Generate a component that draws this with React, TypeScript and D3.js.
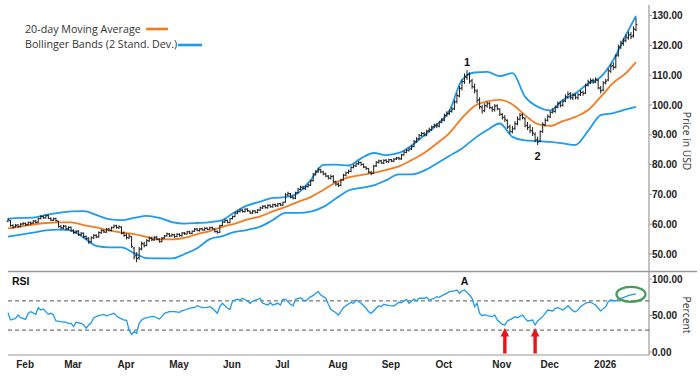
import React from "react";
import * as d3 from "d3";

// ---- Daily OHLC (trading-day index 0 = late Jan 2025) ----
const closes = [
  61.5, 59.5, 59.0, 59.6, 59.2, 60.0, 60.2, 59.8, 60.5, 60.3,
  61.0, 60.6, 61.8, 62.5, 62.2, 62.8, 62.0, 61.4, 61.8, 61.2,
  59.2, 58.8, 59.3, 58.5, 58.9, 57.8, 57.2, 57.6, 56.5, 56.9,
  55.8, 55.2, 54.0, 55.5, 56.2, 55.8, 57.2, 57.8, 57.4, 58.3,
  58.0, 58.8, 59.4, 58.9, 59.2, 57.0, 56.2, 55.5, 56.0, 52.5,
  49.0, 48.5, 51.5, 53.5, 52.8, 54.5, 55.2, 54.8, 55.6, 55.0,
  54.2, 55.3, 56.0, 56.8, 56.0, 56.5, 55.8, 56.6, 56.2, 57.0,
  56.8, 57.4, 57.0, 57.6, 58.3, 57.9, 58.4, 58.1, 58.6, 58.3,
  58.8, 58.5, 57.5, 57.2, 59.5, 60.8, 61.2, 60.6, 61.8, 62.5,
  63.8, 64.2, 64.8, 64.3, 65.0, 64.5, 63.8, 64.4, 64.0, 64.8,
  65.5, 66.0, 65.6, 66.3, 65.9, 66.5, 66.2, 66.8, 66.5, 67.2,
  69.8, 70.3, 69.0, 68.8, 70.5, 71.8, 72.4, 72.0, 72.6, 73.2,
  74.5, 76.8, 77.5, 78.2, 77.6, 76.8, 76.2, 75.5, 76.0, 74.2,
  73.5, 73.0, 74.8, 76.5, 77.2, 77.8, 79.0, 79.6, 80.2, 80.6,
  80.0, 79.2, 78.6, 77.5, 77.0, 79.5, 80.8, 81.2, 80.6, 81.4,
  81.0, 81.6, 81.2, 81.8, 82.2, 82.0, 83.2, 84.2, 84.8, 85.2,
  86.0, 87.8, 88.6, 89.8, 90.4, 90.0, 91.2, 91.8, 92.6, 93.2,
  93.0, 94.2, 95.0, 96.5, 97.2, 97.8, 98.6, 101.0, 103.2, 105.5,
  107.8, 109.5, 110.2, 108.0, 106.2, 105.0, 101.5, 99.5, 98.0, 99.8,
  100.4, 99.2, 98.5, 99.6, 98.8, 97.0, 95.8, 95.2, 92.5, 91.2,
  92.0, 93.8, 95.2, 96.5, 95.8, 93.0, 92.4, 91.5, 90.6, 88.2,
  87.6, 91.0, 93.5, 94.8, 96.2, 97.5, 98.0, 99.2, 100.5, 99.8,
  101.2, 102.8, 103.6, 102.5, 103.2, 102.6, 103.4, 104.2, 103.8, 106.5,
  107.8, 108.2, 107.6, 108.6, 105.8, 104.8, 107.5, 108.0, 111.5, 113.0,
  112.6, 116.5, 119.5, 120.8, 121.5, 122.8, 123.5, 122.9, 125.5, 127.0,
];
const opens = [
  61.0, 61.2, 59.6, 59.1, 59.8, 59.3, 60.1, 60.3, 59.9, 60.6,
  60.4, 61.1, 60.7, 61.9, 62.6, 62.1, 62.9, 61.9, 61.3, 61.9,
  61.0, 59.3, 58.7, 59.4, 58.4, 59.0, 57.9, 57.1, 57.7, 56.4,
  57.0, 55.9, 55.3, 54.1, 55.4, 56.3, 55.7, 57.1, 57.9, 57.3,
  58.4, 57.9, 58.9, 59.5, 58.8, 59.0, 57.1, 56.3, 55.4, 55.8,
  52.0, 49.5, 48.8, 51.8, 53.3, 52.9, 54.4, 55.3, 54.7, 55.7,
  54.9, 54.1, 55.4, 56.1, 56.7, 56.1, 56.4, 55.9, 56.7, 56.1,
  57.1, 56.7, 57.5, 56.9, 57.7, 58.4, 57.8, 58.5, 58.0, 58.7,
  58.2, 58.9, 58.4, 57.6, 57.3, 59.6, 60.7, 61.3, 60.5, 61.9,
  62.6, 63.7, 64.3, 64.7, 64.2, 65.1, 64.4, 63.7, 64.5, 63.9,
  64.7, 65.4, 66.1, 65.5, 66.4, 65.8, 66.6, 66.1, 66.9, 66.4,
  67.4, 69.9, 70.2, 69.1, 68.7, 70.6, 71.7, 72.5, 71.9, 72.7,
  73.1, 74.6, 76.7, 77.6, 78.3, 77.5, 76.9, 76.1, 75.4, 76.1,
  74.3, 73.4, 73.1, 74.9, 76.4, 77.3, 77.7, 79.1, 79.5, 80.3,
  80.7, 80.1, 79.1, 78.7, 77.4, 77.1, 79.6, 80.7, 81.3, 80.5,
  81.5, 80.9, 81.7, 81.1, 81.9, 82.3, 81.9, 83.3, 84.1, 84.7,
  85.3, 86.1, 87.7, 88.7, 89.7, 90.5, 89.9, 91.3, 91.7, 92.7,
  93.3, 92.9, 94.3, 94.9, 96.6, 97.1, 97.9, 98.7, 101.2, 103.0,
  105.7, 107.9, 109.2, 110.4, 108.1, 106.0, 104.6, 101.8, 99.2, 98.2,
  99.7, 100.6, 99.0, 98.4, 99.8, 98.6, 96.8, 95.9, 94.8, 92.8,
  91.0, 92.2, 93.6, 95.3, 96.7, 95.4, 93.2, 92.6, 91.3, 90.2,
  88.5, 87.9, 91.2, 93.3, 94.9, 96.0, 97.6, 97.8, 99.3, 100.7,
  99.9, 101.4, 102.6, 103.8, 102.3, 103.3, 102.4, 103.5, 104.3, 104.0,
  106.7, 107.6, 108.3, 107.8, 108.2, 105.6, 105.0, 107.4, 108.4, 111.3,
  113.2, 112.8, 116.8, 119.3, 120.6, 121.7, 122.5, 123.6, 123.2, 125.3,
];
const highs = [
  62.0, 61.4, 60.0, 60.1, 60.0, 60.4, 60.7, 60.6, 60.9, 60.9,
  61.4, 61.5, 62.2, 63.0, 62.9, 63.3, 63.2, 62.3, 62.2, 62.2,
  61.2, 59.7, 59.8, 59.6, 59.3, 59.2, 58.3, 58.0, 58.0, 57.4,
  57.2, 56.2, 55.6, 55.9, 56.7, 56.6, 57.6, 58.3, 58.2, 58.7,
  58.8, 59.2, 59.9, 59.8, 59.6, 59.3, 57.6, 56.9, 56.8, 56.0,
  52.4, 50.6, 52.4, 54.2, 54.1, 55.0, 55.9, 55.8, 56.0, 56.1,
  55.3, 55.7, 56.4, 57.2, 57.0, 56.9, 56.8, 57.0, 56.9, 57.4,
  57.4, 57.8, 57.8, 57.9, 58.7, 58.7, 58.8, 58.8, 59.0, 58.9,
  59.2, 59.2, 58.6, 57.9, 59.8, 61.2, 61.7, 61.5, 62.1, 62.9,
  64.1, 64.6, 65.2, 65.0, 65.4, 65.3, 64.6, 64.8, 64.7, 65.1,
  65.9, 66.4, 66.4, 66.7, 66.6, 66.9, 66.9, 67.2, 67.2, 67.6,
  70.4, 70.9, 70.5, 69.6, 70.9, 72.2, 72.9, 72.9, 73.0, 73.6,
  74.9, 77.2, 78.1, 79.0, 78.6, 77.9, 77.3, 76.5, 76.6, 76.4,
  74.6, 74.0, 75.2, 76.9, 77.7, 78.3, 79.4, 80.1, 80.7, 81.2,
  81.0, 80.4, 79.5, 78.9, 77.9, 79.9, 81.2, 81.7, 81.6, 81.8,
  81.8, 82.0, 81.9, 82.2, 82.6, 82.6, 83.6, 84.6, 85.3, 85.7,
  86.5, 88.3, 89.2, 90.3, 91.0, 90.9, 91.7, 92.4, 93.1, 93.8,
  93.9, 94.7, 95.6, 97.1, 97.9, 98.5, 99.4, 101.6, 104.0, 106.3,
  108.6, 110.6, 111.7, 111.0, 108.8, 107.2, 105.3, 102.6, 100.0, 100.6,
  101.2, 101.0, 99.6, 100.3, 100.2, 98.9, 97.3, 96.6, 95.2, 93.4,
  93.0, 94.6, 96.2, 97.3, 97.2, 96.0, 94.3, 93.5, 92.6, 90.8,
  89.4, 91.5, 94.2, 95.6, 96.8, 98.0, 98.9, 99.8, 101.2, 101.3,
  101.8, 103.6, 104.6, 104.3, 103.9, 103.8, 104.0, 105.0, 104.8, 107.2,
  108.5, 109.0, 108.9, 109.3, 108.7, 106.4, 108.0, 108.8, 112.2, 113.8,
  114.3, 117.0, 120.3, 121.6, 122.5, 123.6, 124.6, 124.5, 126.4, 129.2,
];
const lows = [
  60.7, 59.2, 58.5, 58.9, 58.8, 59.0, 59.7, 59.4, 59.6, 59.8,
  60.1, 60.3, 60.5, 61.6, 61.8, 61.9, 61.7, 61.0, 61.1, 60.9,
  58.8, 58.2, 58.4, 58.0, 58.0, 57.4, 56.7, 56.8, 56.1, 56.0,
  55.4, 54.7, 53.4, 53.8, 55.0, 55.3, 55.4, 56.8, 57.0, 57.1,
  57.6, 57.6, 58.6, 58.5, 58.4, 56.6, 55.7, 54.9, 55.0, 52.1,
  48.2, 47.2, 48.0, 51.2, 52.2, 52.6, 54.0, 54.3, 54.4, 54.6,
  53.8, 53.9, 55.1, 55.8, 55.7, 55.8, 55.4, 55.6, 55.8, 55.8,
  56.4, 56.5, 56.7, 56.6, 57.4, 57.6, 57.5, 57.8, 57.8, 58.0,
  58.0, 58.2, 57.2, 56.8, 57.0, 59.4, 60.4, 60.3, 60.3, 61.6,
  62.3, 63.4, 63.9, 63.9, 63.9, 64.1, 63.4, 63.4, 63.6, 63.7,
  64.4, 65.1, 65.2, 65.2, 65.5, 65.5, 65.8, 65.8, 66.1, 66.1,
  67.2, 69.4, 68.7, 68.3, 68.4, 70.3, 71.4, 71.6, 71.5, 72.3,
  72.8, 74.3, 76.3, 77.2, 77.1, 76.4, 75.8, 75.0, 75.0, 73.8,
  72.8, 72.5, 72.8, 74.6, 76.0, 76.9, 77.4, 78.7, 79.2, 79.9,
  79.6, 78.8, 78.2, 77.0, 76.4, 76.9, 79.2, 80.3, 80.2, 80.2,
  80.6, 80.6, 80.8, 80.8, 81.6, 81.5, 81.6, 83.0, 83.8, 84.4,
  84.9, 85.8, 87.3, 88.3, 89.4, 89.4, 89.5, 90.8, 91.3, 92.2,
  92.3, 92.5, 93.8, 94.5, 96.1, 96.6, 97.4, 98.3, 100.5, 102.6,
  104.9, 107.1, 108.4, 107.2, 105.4, 103.9, 100.6, 98.6, 97.1, 97.6,
  99.1, 98.6, 97.6, 97.8, 98.2, 96.3, 95.1, 94.3, 92.0, 90.3,
  90.5, 91.6, 93.2, 94.8, 95.2, 92.5, 91.6, 90.5, 89.6, 87.5,
  86.6, 87.5, 90.6, 92.8, 94.4, 95.6, 97.1, 97.4, 98.9, 99.2,
  99.5, 100.9, 102.1, 101.8, 101.7, 101.9, 101.8, 103.0, 103.1, 103.7,
  106.2, 107.0, 107.1, 107.3, 105.2, 103.9, 104.6, 106.9, 108.0, 110.8,
  111.8, 112.3, 116.2, 118.8, 119.9, 121.0, 121.9, 122.1, 122.6, 124.8,
];

const bandDays = [
  0, 5, 10, 15, 20, 25, 30, 35, 40, 45, 50, 55, 60, 65, 70, 75, 80, 85, 90, 95,
  100, 105, 110, 115, 120, 125, 130, 135, 140, 145, 150, 155, 160, 165, 170, 175,
  180, 185, 190, 195, 200, 205, 210, 215, 220, 225, 230, 235, 240, 245, 249,
];
const maValues = [
  58.6, 59.2, 59.9, 60.4, 60.6, 60.6, 59.7, 58.9, 57.9, 57.2,
  56.7, 55.7, 54.9, 54.9, 55.4, 56.7, 57.7, 59.1, 60.2, 61.6,
  62.6, 64.3, 65.8, 67.5, 69.1, 71.5, 74.0, 75.7, 76.5, 77.2,
  78.2, 79.4, 81.5, 83.9, 87.1, 90.6, 95.6, 99.7, 101.2, 101.7,
  100.2, 96.6, 93.6, 93.0, 94.6, 96.0, 98.3, 102.7, 107.4, 110.7, 114.4,
];
const upperValues = [
  61.9, 62.1, 62.2, 63.1, 63.8, 64.3, 64.4, 63.1, 61.7, 61.4,
  62.1, 62.8, 62.1, 60.7, 60.2, 60.4, 60.7, 61.4, 64.1, 66.3,
  67.6, 68.8, 69.1, 70.5, 74.8, 79.9, 80.0, 79.7, 82.1, 83.9,
  83.2, 83.9, 86.4, 89.8, 93.3, 98.0, 108.4, 110.9, 111.1, 109.7,
  110.7, 102.8, 99.4, 98.2, 101.7, 103.9, 107.1, 109.4, 115.1, 123.5, 129.9,
];
const lowerValues = [
  55.8, 56.5, 57.2, 57.9, 58.2, 57.9, 55.5, 52.7, 52.2, 52.2,
  50.3, 48.6, 48.5, 48.5, 50.0, 51.9, 55.0, 56.0, 57.4, 58.1,
  59.2, 61.4, 63.8, 63.8, 64.2, 65.8, 68.6, 71.3, 72.2, 73.0,
  74.8, 76.7, 76.7, 78.0, 80.4, 82.9, 85.4, 88.8, 91.6, 93.8,
  89.3, 88.1, 87.9, 87.6, 87.1, 86.6, 91.3, 96.6, 97.3, 98.5, 99.4,
];

// ---- RSI readings ----
const rsiDays = [
  0, 1, 3, 4, 5, 7, 8, 9, 11, 12, 13, 14, 16, 17, 18, 19, 21, 23, 24, 25,
  26, 27, 29, 30, 31, 32, 33, 34, 36, 38, 39, 40, 42, 43, 44, 46, 47, 48, 49, 50,
  51, 52, 53, 54, 55, 57, 58, 60, 61, 62, 64, 66, 68, 69, 70, 71, 73, 74, 75, 77,
  79, 80, 81, 83, 84, 85, 87, 88, 89, 91, 92, 93, 95, 96, 97, 99, 100, 101, 103, 104,
  105, 107, 108, 109, 110, 112, 113, 114, 116, 117, 118, 120, 121, 122, 123, 124, 126, 127, 128, 130,
  131, 132, 133, 134, 136, 137, 138, 140, 142, 143, 144, 146, 147, 148, 149, 151, 153, 155, 156, 157,
  158, 159, 161, 162, 163, 165, 166, 167, 169, 170, 171, 173, 174, 175, 177, 178, 179, 180, 181, 183,
  184, 185, 186, 187, 188, 189, 190, 192, 193, 194, 196, 197, 198, 200, 201, 202, 204, 205, 206, 208,
  209, 210, 212, 213, 214, 216, 217, 218, 220, 221, 222, 224, 225, 226, 227, 229, 230, 231, 233, 234,
  235, 237, 238, 239, 241, 242, 243, 245, 246, 247, 249,
];
const rsiValues = [
  53.8, 43.8, 46.1, 50.7, 47.0, 44.7, 53.0, 55.2, 51.6, 60.7, 57.5, 58.9, 51.6, 53.0, 50.7, 42.5, 41.5, 40.7, 39.3, 39.3,
  34.7, 40.7, 39.3, 37.0, 32.5, 37.0, 40.1, 47.0, 49.7, 51.6, 49.3, 50.7, 53.0, 49.7, 47.0, 43.8, 43.8, 30.1, 24.2, 27.8,
  25.6, 39.3, 43.8, 46.1, 47.0, 48.4, 48.4, 45.2, 48.4, 53.0, 55.2, 55.2, 54.4, 56.6, 57.5, 58.9, 60.7, 60.7, 63.4, 60.7,
  61.2, 62.1, 59.9, 53.0, 62.1, 66.7, 59.9, 58.5, 69.9, 72.2, 71.2, 73.6, 69.9, 66.7, 69.9, 72.2, 73.6, 66.7, 64.4, 67.5,
  64.4, 66.7, 64.4, 72.2, 72.2, 65.3, 63.4, 72.2, 74.4, 71.2, 69.9, 75.8, 77.1, 80.4, 82.6, 78.1, 73.6, 65.3, 58.5, 53.8,
  50.7, 55.2, 60.7, 63.4, 68.1, 66.7, 71.2, 66.7, 59.9, 55.2, 53.0, 59.9, 63.4, 62.1, 65.3, 63.4, 63.0, 68.1, 67.5, 69.9,
  72.2, 66.7, 72.6, 69.9, 73.6, 73.6, 74.9, 71.2, 73.6, 75.8, 74.9, 79.0, 80.4, 82.6, 83.6, 84.9, 80.4, 83.6, 84.9, 78.1,
  73.6, 62.1, 66.7, 53.0, 49.7, 50.7, 49.7, 48.4, 50.7, 43.8, 37.9, 37.0, 42.5, 46.1, 48.4, 47.0, 50.7, 46.1, 42.5, 43.8,
  37.0, 42.5, 48.4, 53.0, 57.5, 56.2, 59.9, 60.7, 57.5, 59.9, 63.4, 56.2, 55.2, 57.5, 62.1, 66.7, 68.1, 68.1, 64.4, 59.9,
  56.2, 62.1, 68.9, 71.2, 69.9, 72.2, 73.6, 75.8, 77.1, 78.1, 79.5,
];

// ---- Axis / annotation data ----
const monthLabels = ["Feb", "Mar", "Apr", "May", "Jun", "Jul", "Aug", "Sep", "Oct", "Nov", "Dec", "2026"];
const monthDays = [6, 25, 46, 67, 88, 108, 130, 151, 172, 195, 214, 236];
const priceTicks = [50, 60, 70, 80, 90, 100, 110, 120, 130];
const rsiTicks = [0, 50, 100];
const rsiLevels = [30, 70];
const peakDays = [182, 210];
const peakTexts = ["1", "2"];
const arrowDays = [197, 209];
const rsiMarkDay = 181;
const circleDay = 247;

const ORANGE = "#F47B20";
const BLUE = "#1E9BF0";
const BAR = "#1c1c1c";
const AXIS = "#9a9a9a";

export default function App() {
  const x = d3.scaleLinear().domain([0, 249]).range([8, 636]);
  const yP = d3.scaleLinear().domain([50, 130]).range([254, 15.6]);
  const yR = d3.scaleLinear().domain([0, 100]).range([352, 279]);

  const bandLine = (vals: number[]) =>
    d3
      .line<number>()
      .x((_, i) => x(bandDays[i]))
      .y((v) => yP(v))
      .curve(d3.curveMonotoneX)(vals) as string;

  const rsiLine = d3
    .line<number>()
    .x((_, i) => x(rsiDays[i]))
    .y((v) => yR(v))(rsiValues) as string;

  const axisX = 649;
  const tick = 1.4;

  return (
    <svg
      width={700}
      height={378}
      style={{ position: "absolute", left: 0, top: 0, background: "#fff" }}
    >
      {/* frame lines */}
      <line x1={axisX} x2={axisX} y1={5} y2={355} stroke={AXIS} strokeWidth={1.2} />
      <line x1={8} x2={697} y1={271.5} y2={271.5} stroke={AXIS} strokeWidth={1.5} />
      <line x1={8} x2={axisX} y1={355} y2={355} stroke={AXIS} strokeWidth={1.2} />

      {/* price axis */}
      {priceTicks.map((t) => (
        <g key={"p" + t}>
          <line x1={axisX} x2={axisX + 3} y1={yP(t)} y2={yP(t)} stroke={AXIS} />
          <text
            x={652}
            y={yP(t)}
            dy="0.35em"
            fontFamily="Liberation Sans, Arial, sans-serif"
            fontWeight="bold"
            fontSize={10}
            fill="#222"
          >
            {t.toFixed(2)}
          </text>
        </g>
      ))}
      <text
        transform={`translate(687,141) rotate(90)`}
        textAnchor="middle"
        dy="0.35em"
        fontFamily="Open Sans, sans-serif"
        fontSize={10.3}
        fill="#333"
      >
        Price in USD
      </text>

      {/* Bollinger bands & moving average */}
      <path d={bandLine(upperValues)} fill="none" stroke={BLUE} strokeWidth={1.8} />
      <path d={bandLine(lowerValues)} fill="none" stroke={BLUE} strokeWidth={1.8} />
      <path d={bandLine(maValues)} fill="none" stroke={ORANGE} strokeWidth={1.8} />

      {/* OHLC bars */}
      {closes.map((c, i) => {
        const cx = x(i);
        return (
          <g key={"b" + i} stroke={BAR} strokeWidth={1}>
            <line x1={cx} x2={cx} y1={yP(highs[i])} y2={yP(lows[i])} />
            <line x1={cx - tick} x2={cx} y1={yP(opens[i])} y2={yP(opens[i])} />
            <line x1={cx} x2={cx + tick} y1={yP(c)} y2={yP(c)} />
          </g>
        );
      })}

      {/* peak / trough labels */}
      {peakDays.map((d, i) => (
        <text
          key={"pk" + i}
          x={x(d)}
          y={i === 0 ? yP(highs[d]) - 8 : yP(lows[d]) + 11}
          dy="0.35em"
          textAnchor="middle"
          fontFamily="Liberation Sans, Arial, sans-serif"
          fontWeight="bold"
          fontSize={11}
          fill="#111"
        >
          {peakTexts[i]}
        </text>
      ))}

      {/* legend */}
      <text x={25} y={29} dy="0.35em" fontFamily="Open Sans, sans-serif" fontSize={10.7} fill="#333">
        20-day Moving Average
      </text>
      <line x1={146} x2={168} y1={29} y2={29} stroke={ORANGE} strokeWidth={2.6} />
      <text x={25} y={44.5} dy="0.35em" fontFamily="Open Sans, sans-serif" fontSize={10.7} fill="#333">
        Bollinger Bands (2 Stand. Dev.)
      </text>
      <line x1={178} x2={202} y1={45} y2={45} stroke={BLUE} strokeWidth={2.6} />

      {/* RSI panel */}
      <text
        x={12}
        y={281}
        dy="0.35em"
        fontFamily="Liberation Sans, Arial, sans-serif"
        fontWeight="bold"
        fontSize={10.5}
        fill="#111"
      >
        RSI
      </text>
      {rsiLevels.map((l) => (
        <line
          key={"l" + l}
          x1={8}
          x2={axisX}
          y1={yR(l)}
          y2={yR(l)}
          stroke="#555"
          strokeWidth={1}
          strokeDasharray="4,3"
        />
      ))}
      {rsiTicks.map((t) => (
        <g key={"r" + t}>
          <line x1={axisX} x2={axisX + 3} y1={yR(t)} y2={yR(t)} stroke={AXIS} />
          <text
            x={652}
            y={yR(t)}
            dy="0.35em"
            fontFamily="Liberation Sans, Arial, sans-serif"
            fontWeight="bold"
            fontSize={10}
            fill="#222"
          >
            {t.toFixed(2)}
          </text>
        </g>
      ))}
      <text
        transform={`translate(687,315) rotate(90)`}
        textAnchor="middle"
        dy="0.35em"
        fontFamily="Open Sans, sans-serif"
        fontSize={10.3}
        fill="#333"
      >
        Percent
      </text>
      <path d={rsiLine} fill="none" stroke={BLUE} strokeWidth={1.3} />
      <text
        x={x(rsiMarkDay)}
        y={281}
        dy="0.35em"
        textAnchor="middle"
        fontFamily="Liberation Sans, Arial, sans-serif"
        fontWeight="bold"
        fontSize={10.5}
        fill="#111"
      >
        A
      </text>

      {/* arrows */}
      {arrowDays.map((d) => {
        const ax = x(d);
        const tip = yR(33);
        const base = yR(0) + 1.5;
        const hh = 8.5;
        const hw = 4.3;
        const sw = 1.7;
        const p = d3.path();
        p.moveTo(ax, tip);
        p.lineTo(ax + hw, tip + hh);
        p.lineTo(ax + sw, tip + hh);
        p.lineTo(ax + sw, base);
        p.lineTo(ax - sw, base);
        p.lineTo(ax - sw, tip + hh);
        p.lineTo(ax - hw, tip + hh);
        p.closePath();
        return <path key={"a" + d} d={p.toString()} fill="#E8141C" />;
      })}

      {/* green ellipse */}
      <ellipse
        cx={x(circleDay)}
        cy={yR(79)}
        rx={14.5}
        ry={7.5}
        fill="none"
        stroke="#4A9A5C"
        strokeWidth={2.3}
      />

      {/* month labels */}
      {monthLabels.map((m, i) => (
        <text
          key={m}
          x={x(monthDays[i]) + 2}
          y={364}
          dy="0.35em"
          textAnchor="middle"
          fontFamily="Liberation Sans, Arial, sans-serif"
          fontWeight="bold"
          fontSize={10}
          fill="#222"
        >
          {m}
        </text>
      ))}
    </svg>
  );
}
